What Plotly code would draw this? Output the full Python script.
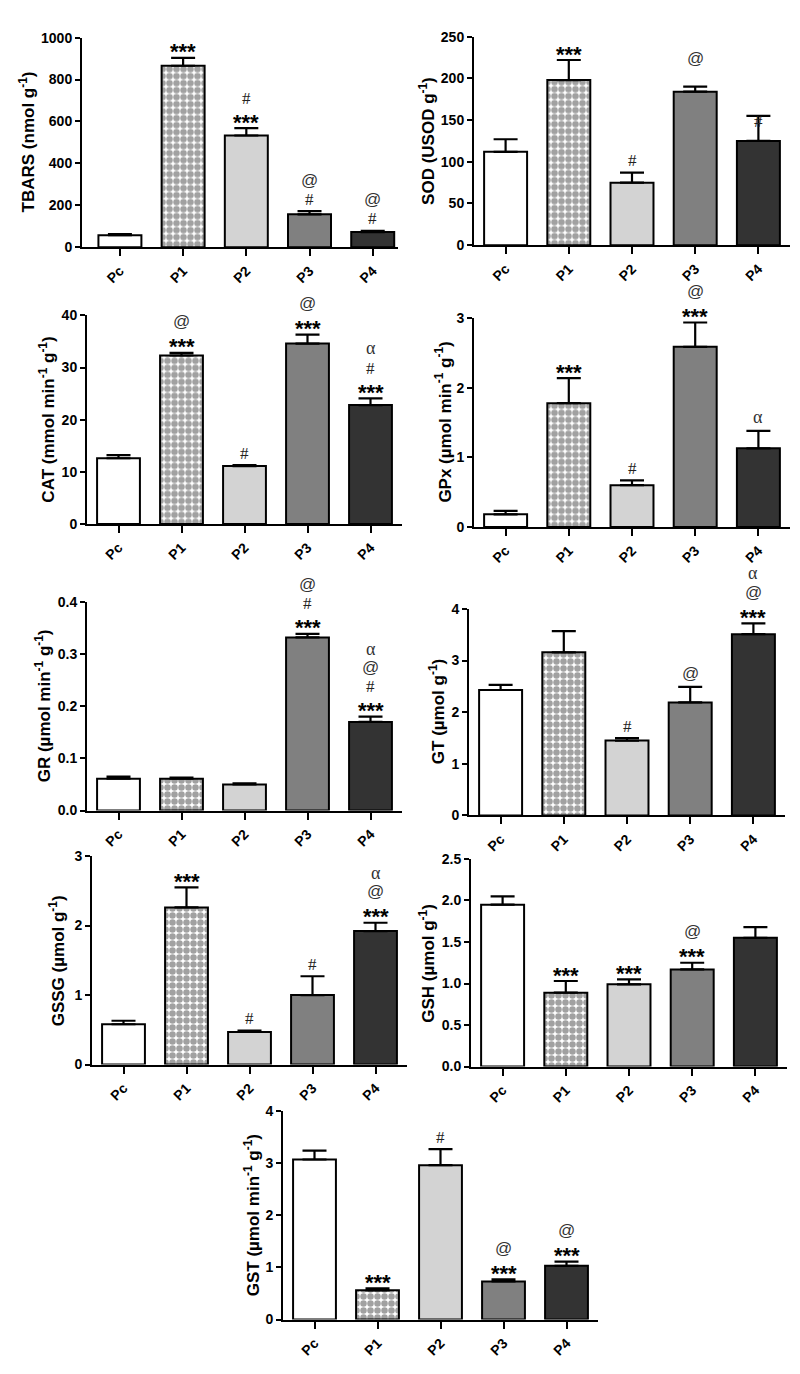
import plotly.graph_objects as go

groups = ["Pc", "P1", "P2", "P3", "P4"]

tbars_mean = [57, 866, 533, 157, 72]
tbars_sem = [6, 37, 35, 15, 6]
tbars_marks = [[], ["***"], ["***", "#"], ["#", "@"], ["#", "@"]]

sod_mean = [112, 198, 75, 184, 125]
sod_sem = [15, 24, 12, 6, 30]
sod_marks = [[], ["***"], ["#"], ["@"], ["#"]]

cat_mean = [12.6, 32.3, 11.1, 34.6, 22.8]
cat_sem = [0.6, 0.5, 0.2, 1.7, 1.3]
cat_marks = [[], ["***", "@"], ["#"], ["***", "@"], ["***", "#", "α"]]

gpx_mean = [0.18, 1.78, 0.60, 2.59, 1.13]
gpx_sem = [0.05, 0.36, 0.07, 0.35, 0.25]
gpx_marks = [[], ["***"], ["#"], ["***", "@"], ["α"]]

gr_mean = [0.061, 0.061, 0.050, 0.332, 0.170]
gr_sem = [0.004, 0.002, 0.002, 0.007, 0.010]
gr_marks = [[], [], [], ["***", "#", "@"], ["***", "#", "@", "α"]]

gt_mean = [2.43, 3.16, 1.45, 2.19, 3.51]
gt_sem = [0.10, 0.41, 0.05, 0.30, 0.21]
gt_marks = [[], [], ["#"], ["@"], ["***", "@", "α"]]

gssg_mean = [0.58, 2.26, 0.47, 1.00, 1.92]
gssg_sem = [0.05, 0.29, 0.02, 0.27, 0.12]
gssg_marks = [[], ["***"], ["#"], ["#"], ["***", "@", "α"]]

gsh_mean = [1.95, 0.89, 0.99, 1.17, 1.55]
gsh_sem = [0.10, 0.14, 0.06, 0.08, 0.13]
gsh_marks = [[], ["***"], ["***"], ["***", "@"], []]

gst_mean = [3.07, 0.56, 2.96, 0.73, 1.03]
gst_sem = [0.17, 0.04, 0.31, 0.04, 0.08]
gst_marks = [[], ["***"], ["#"], ["***", "@"], ["***", "@"]]

titles = [
    "TBARS (nmol g<sup>-1</sup>)",
    "SOD (USOD g<sup>-1</sup>)",
    "CAT (mmol min<sup>-1</sup> g<sup>-1</sup>)",
    "GPx (µmol min<sup>-1</sup> g<sup>-1</sup>)",
    "GR (µmol min<sup>-1</sup> g<sup>-1</sup>)",
    "GT (µmol g<sup>-1</sup>)",
    "GSSG (µmol g<sup>-1</sup>)",
    "GSH (µmol g<sup>-1</sup>)",
    "GST (µmol min<sup>-1</sup> g<sup>-1</sup>)",
]

y_max = [1000, 250, 40, 3, 0.4, 4, 3, 2.5, 4]
y_dtick = [200, 50, 10, 1, 0.1, 1, 1, 0.5, 1]
y_fmt = ["d", "d", "d", "d", ".1f", "d", "d", ".1f", "d"]

panels = [
    (tbars_mean, tbars_sem, tbars_marks),
    (sod_mean, sod_sem, sod_marks),
    (cat_mean, cat_sem, cat_marks),
    (gpx_mean, gpx_sem, gpx_marks),
    (gr_mean, gr_sem, gr_marks),
    (gt_mean, gt_sem, gt_marks),
    (gssg_mean, gssg_sem, gssg_marks),
    (gsh_mean, gsh_sem, gsh_marks),
    (gst_mean, gst_sem, gst_marks),
]

# page layout (pixels): left, right, top, bottom, x-range start, title offset
W, H = 800, 1374
boxes = [
    (82, 398, 30, 242, -0.6, 55),
    (474, 790, 29, 240, -0.5, 47),
    (87, 402, 311, 522, -0.5, 40),
    (474, 790, 314, 525, -0.5, 31),
    (87, 402, 601, 812, -0.5, 44),
    (469, 785, 608, 817, -0.5, 32),
    (92, 407, 858, 1069, -0.5, 35),
    (471, 787, 861, 1071, -0.5, 44),
    (283, 598, 1116, 1327, -0.5, 31),
]

bar_colors = ["#ffffff", "#ffffff", "#d3d3d3", "#808080", "#333333"]
bar_patterns = ["", ".", "", "", ""]

mark_font = {
    "***": dict(family="Liberation Sans", size=22, color="black"),
    "#": dict(family="Liberation Serif", size=17, color="#222222"),
    "@": dict(family="Liberation Sans", size=17, color="#333333"),
    "α": dict(family="Liberation Serif", size=18, color="#333333"),
}
mark_bias = {"***": 6, "#": 0, "@": -1, "α": -2}
first_offset_override = {(1, 3): 27, (1, 4): -6}

fig = go.Figure()
annotations = []

for i, ((mean, sem, marks), box) in enumerate(zip(panels, boxes)):
    n = i + 1
    xa = "x" if n == 1 else f"x{n}"
    ya = "y" if n == 1 else f"y{n}"
    left, right, top, bottom, xstart, toff = box
    fig.add_trace(go.Bar(
        x=groups, y=mean, xaxis=xa, yaxis=ya, width=0.68,
        marker=dict(color=bar_colors, line=dict(color="black", width=2),
                    pattern=dict(shape=bar_patterns, fgcolor="black",
                                 bgcolor="white", size=7, solidity=0.68)),
        error_y=dict(type="data", symmetric=False, array=sem,
                     arrayminus=[0] * len(sem), color="black",
                     thickness=2.2, width=12),
        showlegend=False,
    ))
    axk = "xaxis" if n == 1 else f"xaxis{n}"
    ayk = "yaxis" if n == 1 else f"yaxis{n}"
    fig.update_layout({
        axk: dict(domain=[left / W, right / W], anchor=ya,
                  range=[xstart, xstart + 5], showline=True, linecolor="black",
                  linewidth=2, ticks="outside", ticklen=7, tickwidth=2,
                  tickcolor="black", tickangle=-45, showgrid=False,
                  zeroline=False, type="category", ticklabelstandoff=1,
                  tickfont=dict(family="Liberation Sans", size=14,
                                color="black", weight="bold")),
        ayk: dict(domain=[1 - bottom / H, 1 - top / H], anchor=xa,
                  range=[0, y_max[i]], dtick=y_dtick[i], tick0=0,
                  tickformat=y_fmt[i], showline=True, linecolor="black",
                  linewidth=2, ticks="outside", ticklen=5, tickwidth=2,
                  tickcolor="black", showgrid=False, zeroline=False,
                  tickfont=dict(family="Liberation Sans", size=14,
                                color="black", weight="bold")),
    })
    annotations.append(dict(
        xref="paper", yref="paper", x=(left - toff) / W,
        y=1 - (top + bottom) / 2 / H, text=titles[i], textangle=-90,
        showarrow=False, xanchor="center", yanchor="middle",
        font=dict(family="Liberation Sans", size=17, color="black",
                  weight="bold"),
    ))
    for j, g in enumerate(groups):
        top_val = mean[j] + sem[j]
        off = first_offset_override.get((i, j), 12)
        for k, m in enumerate(marks[j]):
            txt = "<b>***</b>" if m == "***" else m
            annotations.append(dict(
                xref=xa, yref=ya, x=g, y=top_val, text=txt,
                showarrow=False, xanchor="center", yanchor="middle",
                yshift=off + 18 * k - mark_bias[m],
                font=mark_font[m],
            ))

fig.update_layout(
    width=W, height=H, margin=dict(l=0, r=0, t=0, b=0),
    paper_bgcolor="white", plot_bgcolor="white",
    annotations=annotations, bargap=0.32,
)

fig.write_html(
    "out.html",
    config={"displayModeBar": False},
    post_script="document.body.style.margin='0';"
                "document.body.style.overflow='hidden';",
)
